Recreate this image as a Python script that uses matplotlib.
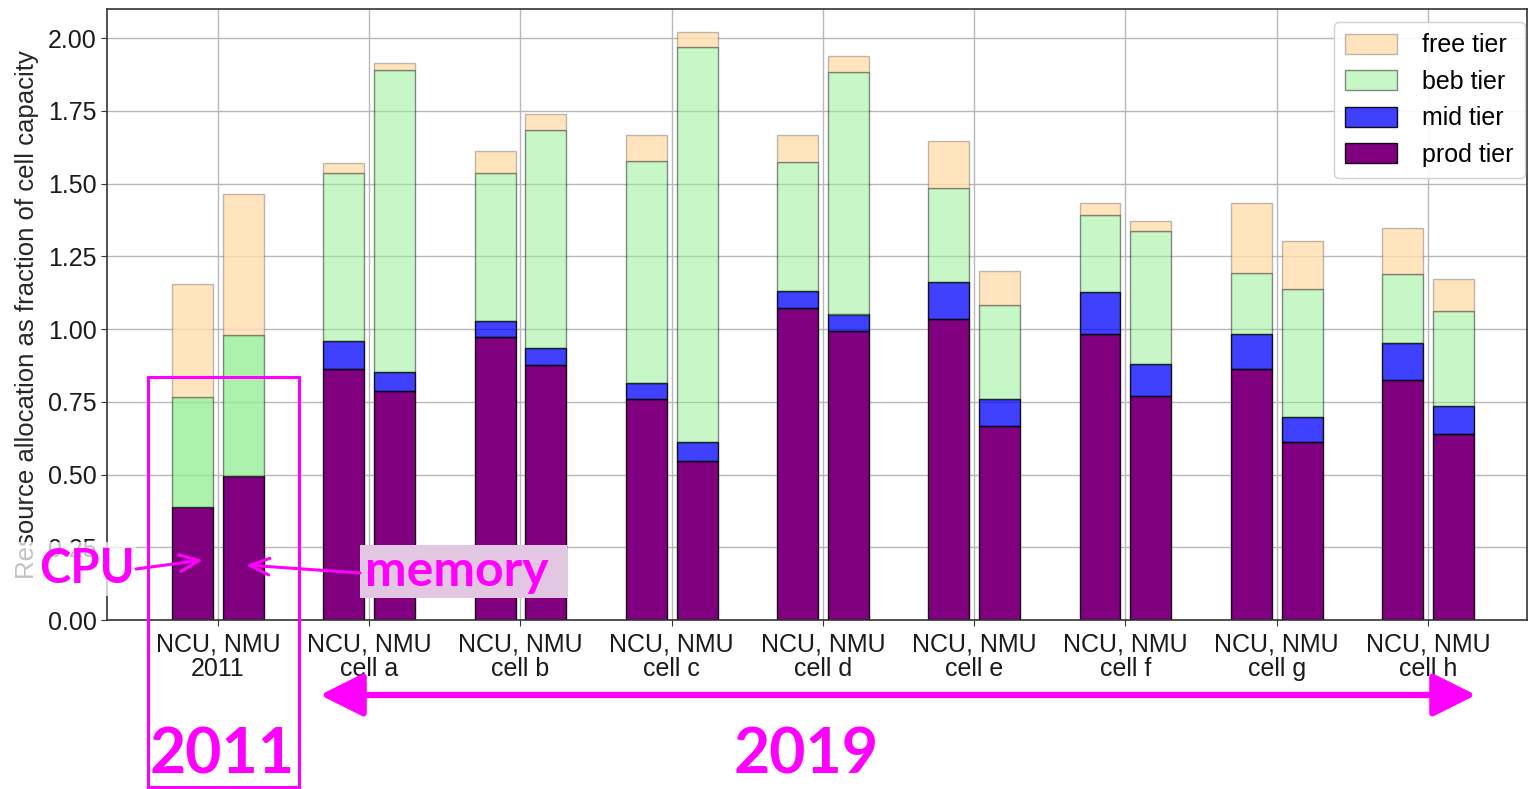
import matplotlib
matplotlib.use('Agg')
import matplotlib.pyplot as plt
import numpy as np
from matplotlib.patches import Rectangle, FancyArrowPatch, Patch
from matplotlib.colors import to_rgba

plt.rcParams['font.family'] = ['Liberation Sans', 'DejaVu Sans']

groups = ['2011', 'cell a', 'cell b', 'cell c', 'cell d', 'cell e', 'cell f', 'cell g', 'cell h']
tick_labels = ['NCU, NMU\n' + g for g in groups]

cpu_prod = [0.389, 0.863, 0.974, 0.758, 1.073, 1.034, 0.984, 0.863, 0.826]
cpu_mid  = [0.000, 0.095, 0.055, 0.055, 0.059, 0.127, 0.145, 0.121, 0.125]
cpu_beb  = [0.379, 0.578, 0.507, 0.765, 0.441, 0.324, 0.263, 0.209, 0.237]
cpu_free = [0.387, 0.033, 0.076, 0.089, 0.094, 0.160, 0.040, 0.239, 0.160]

mem_prod = [0.494, 0.786, 0.875, 0.545, 0.995, 0.666, 0.770, 0.611, 0.638]
mem_mid  = [0.000, 0.066, 0.059, 0.066, 0.055, 0.093, 0.111, 0.087, 0.098]
mem_beb  = [0.486, 1.037, 0.749, 1.359, 0.833, 0.325, 0.457, 0.441, 0.325]
mem_free = [0.484, 0.025, 0.056, 0.050, 0.054, 0.114, 0.032, 0.165, 0.111]

tiers = ['prod tier', 'mid tier', 'beb tier', 'free tier']

W, H = 1528, 789
fig = plt.figure(figsize=(W / 100, H / 100), dpi=100)
ax_l, ax_r, ax_t, ax_b = 107, 1527, 9, 620
ax = fig.add_axes([ax_l / W, 1 - ax_b / H, (ax_r - ax_l) / W, (ax_b - ax_t) / H])

x = np.arange(len(groups))
width = 0.27
off = 0.168

prod_c = '#800080'
mid_c = to_rgba('blue', 0.75)
beb_c19 = to_rgba('lightgreen', 0.5)
beb_c11 = to_rgba('lightgreen', 0.75)
free_c = to_rgba('navajowhite', 0.8)
edge_dark = (0, 0, 0, 0.9)
edge_light = (0, 0, 0, 0.45)

beb_colors = [beb_c11] + [beb_c19] * (len(groups) - 1)

for sign, prod, mid, beb, free in [(-1, cpu_prod, cpu_mid, cpu_beb, cpu_free),
                                   (1, mem_prod, mem_mid, mem_beb, mem_free)]:
    pos = x + sign * off
    prod = np.array(prod); mid = np.array(mid); beb = np.array(beb); free = np.array(free)
    ax.bar(pos, prod, width, color=prod_c, edgecolor=edge_dark, linewidth=1, zorder=2)
    ax.bar(pos[1:], mid[1:], width, bottom=prod[1:], color=mid_c, edgecolor=edge_dark, linewidth=1, zorder=2)
    ax.bar(pos, beb, width, bottom=prod + mid, color=beb_colors, edgecolor=edge_light, linewidth=1, zorder=2)
    ax.bar(pos, free, width, bottom=prod + mid + beb, color=free_c, edgecolor=(0, 0, 0, 0.25), linewidth=1, zorder=2)

ax.set_xlim(-0.734, 8.655)
ax.set_ylim(0, 2.1)
yt = [0, 0.25, 0.5, 0.75, 1.0, 1.25, 1.5, 1.75, 2.0]
ax.set_yticks(yt)
ax.set_yticklabels([f'{v:.2f}' for v in yt])
ax.set_xticks(x)
ax.set_xticklabels(tick_labels, linespacing=1.05)
ax.tick_params(axis='both', labelsize=18, length=4, color='#333333', labelcolor='#1a1a1a')
ax.tick_params(axis='x', pad=5)
ax.grid(True, color='#b8b8b8', linewidth=1, zorder=0)
ax.set_axisbelow(True)
for s in ax.spines.values():
    s.set_color('#333333')
    s.set_linewidth(1.2)
ax.set_ylabel('Resource allocation as fraction of cell capacity', fontsize=18.5, color='#262626', labelpad=6)

handles = [Patch(facecolor=free_c, edgecolor=(0, 0, 0, 0.25), label='free tier'),
           Patch(facecolor=beb_c19, edgecolor=edge_light, label='beb tier'),
           Patch(facecolor=mid_c, edgecolor=edge_dark, label='mid tier'),
           Patch(facecolor=prod_c, edgecolor=edge_dark, label='prod tier')]
leg = ax.legend(handles=handles, loc='upper right', fontsize=18, frameon=True,
                bbox_to_anchor=(1 - 2 / (ax_r - ax_l), 1 - 13 / (ax_b - ax_t)),
                handlelength=2.1, handleheight=0.85, borderpad=0.45, labelspacing=0.5,
                handletextpad=1.0, borderaxespad=0.0)
leg.get_frame().set_edgecolor('#cccccc')
leg.get_frame().set_alpha(0.9)

# ---- annotation overlay (figure pixel coordinates) ----
def P(px, py):
    return (px / W, 1 - py / H)

def box(xa, ya, xb, yb, **kw):
    p0 = P(xa, yb)
    p1 = P(xb, ya)
    return Rectangle(p0, p1[0] - p0[0], p1[1] - p0[1], transform=fig.transFigure, **kw)

mag = '#ff00ff'
tf = fig.transFigure
fig.patches.append(box(148, 377, 299, 787, fill=False, edgecolor=mag, linewidth=2.2, zorder=10))

# background boxes
fig.patches.append(box(12, 542, 136, 596, facecolor='white', edgecolor='none', alpha=0.72, zorder=10))
fig.patches.append(box(360, 545, 567, 598, facecolor='#e2c6e2', edgecolor='none', zorder=10))

big = dict(family=['Lato', 'DejaVu Sans'], weight='bold', color=mag)
fig.text(*P(222, 755), '2011', ha='center', va='center', fontsize=45, transform=tf, **big, zorder=11)
fig.text(*P(806, 755), '2019', ha='center', va='center', fontsize=45, transform=tf, **big, zorder=11)

fig.text(*P(87, 569), 'CPU', ha='center', va='center', fontsize=34, transform=tf, zorder=11, **big)
fig.text(*P(457, 571), 'memory', ha='center', va='center', fontsize=36, transform=tf, zorder=11, **big)

fig.patches.append(FancyArrowPatch(P(136, 569), P(203, 560), transform=tf,
                                   arrowstyle='->,head_length=0.7,head_width=0.3',
                                   shrinkA=0, shrinkB=0,
                                   mutation_scale=20, color=mag, linewidth=2.2, zorder=11))
fig.patches.append(FancyArrowPatch(P(360, 573), P(246, 565), transform=tf,
                                   arrowstyle='->,head_length=0.7,head_width=0.3',
                                   shrinkA=0, shrinkB=0,
                                   mutation_scale=20, color=mag, linewidth=2.2, zorder=11))
fig.patches.append(FancyArrowPatch(P(320, 695), P(1476, 695), transform=tf,
                                   arrowstyle='<|-|>,head_length=1.2,head_width=0.6',
                                   shrinkA=0, shrinkB=0,
                                   mutation_scale=22, color=mag, linewidth=4.5, zorder=11))

fig.savefig('out.png', dpi=100)
